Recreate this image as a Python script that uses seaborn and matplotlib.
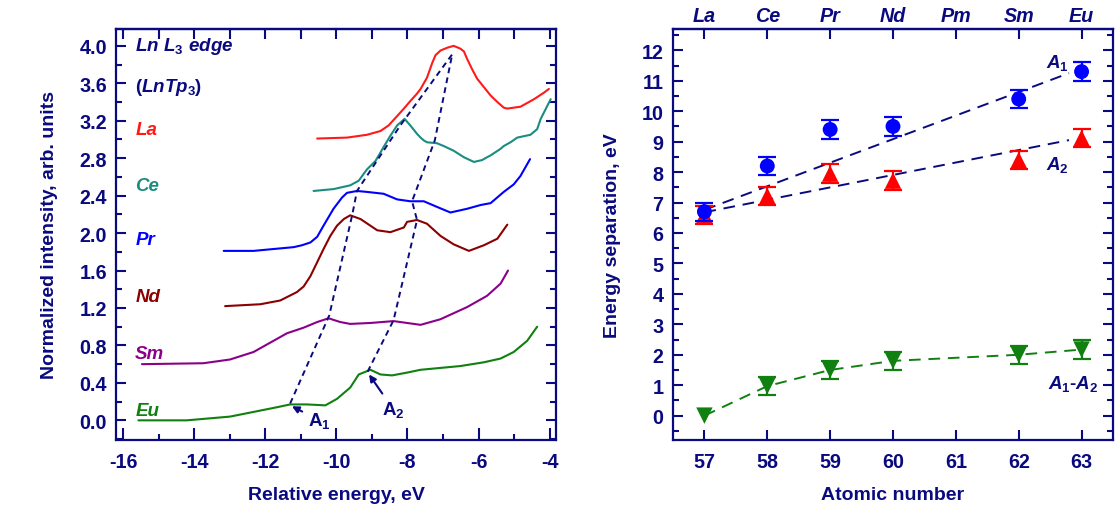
import numpy as np
import pandas as pd
import matplotlib
matplotlib.use('Agg')
import matplotlib.pyplot as plt
import seaborn as sns
from matplotlib.ticker import MultipleLocator, FixedLocator, FormatStrFormatter

# ---------------- data: left panel (spectra) ----------------
la_E = [-10.54, -9.70, -9.14, -8.76, -8.53, -8.29, -8.10, -7.92, -7.73, -7.63, -7.45, -7.30, -7.21, -7.07, -6.88, -6.70,
        -6.51, -6.41, -6.32, -6.18, -6.04, -5.85, -5.66, -5.47, -5.29, -5.19, -4.82, -4.44, -4.16, -4.02]
la_I = [3.01, 3.02, 3.05, 3.09, 3.15, 3.25, 3.33, 3.41, 3.49, 3.54, 3.66, 3.82, 3.90, 3.95, 3.98, 4.00,
        3.97, 3.94, 3.86, 3.75, 3.65, 3.56, 3.47, 3.40, 3.34, 3.33, 3.35, 3.43, 3.50, 3.54]

ce_E = [-10.64, -10.08, -9.61, -9.37, -9.14, -8.90, -8.76, -8.67, -8.48, -8.29, -8.08, -7.92, -7.73, -7.63, -7.54, -7.45,
        -7.17, -6.98, -6.70, -6.41, -6.13, -5.90, -5.76, -5.66, -5.38, -5.29, -5.10, -4.91, -4.54, -4.35, -4.25, -3.97]
ce_I = [2.45, 2.47, 2.51, 2.56, 2.68, 2.77, 2.86, 2.92, 3.04, 3.15, 3.22, 3.15, 3.06, 3.02, 2.99, 2.97,
        2.96, 2.93, 2.88, 2.81, 2.76, 2.78, 2.81, 2.83, 2.90, 2.93, 2.97, 3.02, 3.05, 3.11, 3.22, 3.43]

pr_E = [-13.17, -12.33, -11.20, -10.97, -10.73, -10.54, -10.36, -10.22, -10.08, -9.84, -9.70, -9.42, -9.14, -8.67, -8.29,
        -7.92, -7.54, -7.17, -6.79, -6.32, -5.94, -5.66, -5.29, -5.01, -4.82, -4.55]
pr_I = [1.81, 1.81, 1.85, 1.87, 1.90, 1.96, 2.08, 2.17, 2.26, 2.38, 2.43, 2.45, 2.44, 2.42, 2.36,
        2.34, 2.34, 2.28, 2.22, 2.26, 2.30, 2.32, 2.44, 2.52, 2.61, 2.79]

nd_E = [-13.13, -12.14, -11.58, -11.11, -10.92, -10.73, -10.50, -10.36, -10.17, -9.98, -9.79, -9.61, -9.32, -8.85, -8.48,
        -8.10, -8.01, -7.73, -7.45, -7.07, -6.70, -6.27, -5.85, -5.47, -5.19]
nd_I = [1.22, 1.24, 1.28, 1.37, 1.43, 1.54, 1.72, 1.83, 1.97, 2.08, 2.15, 2.19, 2.15, 2.03, 2.01,
        2.06, 2.12, 2.14, 2.10, 1.97, 1.88, 1.81, 1.87, 1.94, 2.09]

sm_E = [-15.47, -13.74, -12.99, -12.33, -11.86, -11.39, -10.92, -10.54, -10.22, -9.89, -9.61, -9.04, -8.39, -8.01, -7.63,
        -7.07, -6.32, -5.76, -5.38, -5.17]
sm_I = [0.60, 0.61, 0.65, 0.73, 0.83, 0.93, 0.99, 1.05, 1.09, 1.05, 1.03, 1.04, 1.06, 1.04, 1.02,
        1.08, 1.21, 1.33, 1.46, 1.60]

eu_E = [-15.57, -14.21, -12.99, -12.33, -11.67, -11.30, -10.83, -10.31, -9.98, -9.61, -9.37, -9.04, -8.76, -8.43, -8.01,
        -7.63, -7.07, -6.51, -5.85, -5.38, -5.01, -4.63, -4.35]
eu_I = [0.00, 0.00, 0.04, 0.09, 0.14, 0.17, 0.17, 0.16, 0.23, 0.35, 0.49, 0.54, 0.49, 0.48, 0.51,
        0.54, 0.56, 0.58, 0.62, 0.66, 0.73, 0.85, 1.00]

# peak-tracking guide lines (dashed)
a1_track_E = [-11.30, -10.20, -9.55, -9.42, -8.20, -6.74]
a1_track_I = [0.18, 1.12, 2.20, 2.45, 3.15, 3.91]
a2_track_E = [-9.12, -8.39, -7.73, -7.87, -7.23, -6.74]
a2_track_I = [0.52, 1.07, 2.14, 2.34, 2.99, 3.91]

spectra_names = ['La', 'Ce', 'Pr', 'Nd', 'Sm', 'Eu']
spectra_label_y = [3.11, 2.51, 1.93, 1.32, 0.71, 0.11]

# ---------------- data: right panel ----------------
atomic_number = [57, 58, 59, 60, 62, 63]
element_ticks = [57, 58, 59, 60, 61, 62, 63]
element_names = ['La', 'Ce', 'Pr', 'Nd', 'Pm', 'Sm', 'Eu']
a1_sep = [6.7, 8.2, 9.4, 9.5, 10.4, 11.3]
a2_sep = [6.6, 7.22, 7.95, 7.72, 8.4, 9.12]
a1a2_sep = [0.0, 0.97, 1.5, 1.8, 2.0, 2.17]
a1_err = [0.3, 0.3, 0.3, 0.3, 0.3, 0.3]
a2_err = [0.3, 0.3, 0.3, 0.3, 0.3, 0.3]
a1a2_err = [0.0, 0.3, 0.3, 0.3, 0.3, 0.3]
fit_Z = [57.0, 62.8]
a1_fit = [6.76, 11.25]
a2_fit = [6.68, 9.05]

# ---------------- style ----------------
sns.set_style('ticks')
plt.rcParams['font.family'] = ['Liberation Sans', 'DejaVu Sans']
plt.rcParams['font.weight'] = 'bold'
plt.rcParams['axes.unicode_minus'] = False
plt.rcParams['mathtext.fontset'] = 'custom'
plt.rcParams['mathtext.rm'] = 'Liberation Sans:bold'
plt.rcParams['mathtext.it'] = 'Liberation Sans:bold:italic'
plt.rcParams['mathtext.bf'] = 'Liberation Sans:bold'

NAVY = '#0a0a80'
TICK_FS = 14.2
LABEL_FS = 14
TEXT_FS = 13.5
colors = {'La': '#ff1a1a', 'Ce': '#1a8c80', 'Pr': '#0000ff', 'Nd': '#8b0000', 'Sm': '#8b008b', 'Eu': '#108010'}

fig = plt.figure(figsize=(11.2, 5.1), dpi=100)
ax1 = fig.add_axes([116/1120, 1-441/510, 440/1120, 411/510])
ax2 = fig.add_axes([673/1120, 1-441/510, 440/1120, 411/510])

def style_axes(ax):
    for sp in ax.spines.values():
        sp.set_color(NAVY)
        sp.set_linewidth(1.6)
    ax.tick_params(which='both', direction='in', color=NAVY, width=1.5,
                   labelcolor=NAVY, labelsize=TICK_FS)
    ax.tick_params(which='major', length=7)
    ax.tick_params(which='minor', length=4)
    ax.tick_params(axis='x', which='major', pad=8.5)
    ax.tick_params(axis='y', which='major', pad=6.5)

# ---------------- left panel ----------------
spectra = {
    'La': (la_E, la_I), 'Ce': (ce_E, ce_I), 'Pr': (pr_E, pr_I),
    'Nd': (nd_E, nd_I), 'Sm': (sm_E, sm_I), 'Eu': (eu_E, eu_I),
}
for name in spectra_names:
    E, I = spectra[name]
    df = pd.DataFrame({'E': E, 'I': I})
    sns.lineplot(data=df, x='E', y='I', ax=ax1, color=colors[name], lw=1.5,
                 sort=False, estimator=None)

for tE, tI in [(a1_track_E, a1_track_I), (a2_track_E, a2_track_I)]:
    sns.lineplot(x=tE, y=tI, ax=ax1, color=NAVY, lw=1.4, sort=False,
                 estimator=None, linestyle=(0, (3, 2.2)))

for name, ly in zip(spectra_names, spectra_label_y):
    ax1.text(-15.66, ly, name, color=colors[name], fontsize=TEXT_FS,
             fontweight='bold', fontstyle='italic', ha='left', va='center')

ax1.text(-15.66, 4.0, r'$\mathit{Ln\ L_3\ edge}$', color=NAVY, fontsize=TEXT_FS,
         ha='left', va='center')
ax1.text(-15.66, 3.57, r'$\mathit{(LnTp_3)}$', color=NAVY, fontsize=TEXT_FS,
         ha='left', va='center')

ax1.annotate(r'$\mathrm{A}_\mathrm{1}$', xy=(-11.25, 0.15), xytext=(-10.8, 0.0),
             color=NAVY, fontsize=TEXT_FS, ha='left', va='center',
             arrowprops=dict(arrowstyle='-|>', color=NAVY, lw=1.5,
                             mutation_scale=10, shrinkA=2, shrinkB=0))
ax1.annotate(r'$\mathrm{A}_\mathrm{2}$', xy=(-9.08, 0.49), xytext=(-8.72, 0.12),
             color=NAVY, fontsize=TEXT_FS, ha='left', va='center',
             arrowprops=dict(arrowstyle='-|>', color=NAVY, lw=1.5,
                             mutation_scale=10, shrinkA=2, shrinkB=0))

ax1.set_xlim(-16.2, -3.82)
ax1.set_ylim(-0.21, 4.18)
ax1.xaxis.set_major_locator(MultipleLocator(2))
ax1.xaxis.set_minor_locator(MultipleLocator(1))
ax1.yaxis.set_major_locator(MultipleLocator(0.4))
ax1.yaxis.set_minor_locator(MultipleLocator(0.2))
ax1.yaxis.set_major_formatter(FormatStrFormatter('%.1f'))
style_axes(ax1)
ax1.tick_params(which='both', right=True, top=False)
ax1.tick_params(which='major', axis='x', length=9)
top1 = ax1.secondary_xaxis('top')
top1.xaxis.set_major_locator(MultipleLocator(1))
top1.tick_params(direction='in', length=7, width=1.5, color=NAVY, labeltop=False)
top1.spines['top'].set_color(NAVY)
top1.spines['top'].set_linewidth(1.6)
ax1.set_xlabel('Relative energy, eV', color=NAVY, fontsize=LABEL_FS, fontweight='bold', labelpad=11)
ax1.set_ylabel('Normalized intensity, arb. units', color=NAVY, fontsize=LABEL_FS,
               fontweight='bold', labelpad=15)

# ---------------- right panel ----------------
sns.lineplot(x=fit_Z, y=a1_fit, ax=ax2, color=NAVY, lw=1.4, estimator=None,
             linestyle=(0, (6, 4)))
sns.lineplot(x=fit_Z, y=a2_fit, ax=ax2, color=NAVY, lw=1.4, estimator=None,
             linestyle=(0, (6, 4)))
sns.lineplot(x=atomic_number, y=a1a2_sep, ax=ax2, color='#108010', lw=1.4,
             estimator=None, linestyle=(0, (6, 4)))

ax2.errorbar(atomic_number[1:], a1a2_sep[1:], yerr=a1a2_err[1:], fmt='none',
             ecolor='#108010', elinewidth=1.6, capsize=6.5, capthick=1.6)
sns.scatterplot(x=atomic_number, y=a1a2_sep, ax=ax2, marker='v', s=140,
                color='#108010', edgecolor='none', zorder=4)
ax2.errorbar(atomic_number, a2_sep, yerr=a2_err, fmt='none',
             ecolor='#ff0000', elinewidth=1.6, capsize=6.5, capthick=1.6)
sns.scatterplot(x=atomic_number, y=a2_sep, ax=ax2, marker='^', s=140,
                color='#ff0000', edgecolor='none', zorder=4)
ax2.errorbar(atomic_number, a1_sep, yerr=a1_err, fmt='none',
             ecolor='#0000ff', elinewidth=1.6, capsize=6.5, capthick=1.6, zorder=5)
sns.scatterplot(x=atomic_number, y=a1_sep, ax=ax2, marker='o', s=115,
                color='#0000ff', edgecolor='none', zorder=6)

ax2.text(62.62, 11.62, r'$\mathit{A_1}$', color=NAVY, fontsize=TEXT_FS, ha='center', va='center')
ax2.text(62.62, 8.27, r'$\mathit{A_2}$', color=NAVY, fontsize=TEXT_FS, ha='center', va='center')
ax2.text(63.27, 1.08, r'$\mathit{A_1}$-$\mathit{A_2}$', color=NAVY, fontsize=TEXT_FS, ha='right', va='center')

ax2.set_xlim(56.5, 63.5)
ax2.set_ylim(-0.8, 12.7)
ax2.xaxis.set_major_locator(FixedLocator(element_ticks))
ax2.yaxis.set_major_locator(MultipleLocator(1))
ax2.yaxis.set_minor_locator(MultipleLocator(0.5))
style_axes(ax2)
ax2.tick_params(which='both', right=True, top=False)
ax2.tick_params(axis='y', which='major', pad=7)
top2 = ax2.secondary_xaxis('top')
top2.xaxis.set_major_locator(FixedLocator(element_ticks))
top2.set_xticklabels(element_names, fontstyle='italic', fontweight='bold')
top2.tick_params(direction='in', length=7, width=1.5, color=NAVY, labelcolor=NAVY,
                 labelsize=TICK_FS, pad=3)
top2.spines['top'].set_color(NAVY)
top2.spines['top'].set_linewidth(1.6)
ax2.set_xlabel('Atomic number', color=NAVY, fontsize=LABEL_FS, fontweight='bold', labelpad=11)
ax2.set_ylabel('Energy separation, eV', color=NAVY, fontsize=LABEL_FS, fontweight='bold', labelpad=14.5)

for ax in (ax1, ax2):
    for lab in ax.get_xticklabels() + ax.get_yticklabels():
        lab.set_fontweight('bold')
    leg = ax.get_legend()
    if leg is not None:
        leg.remove()

fig.savefig('out.png', dpi=100)
